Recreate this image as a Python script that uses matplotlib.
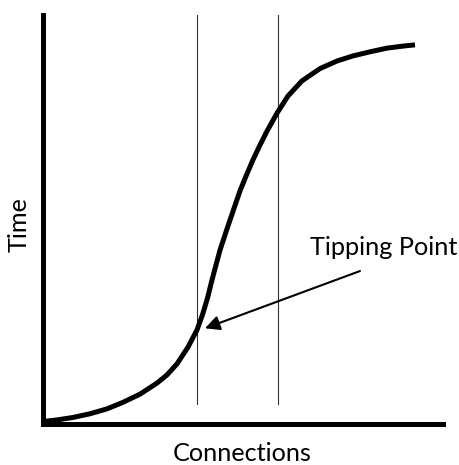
import matplotlib
matplotlib.use('Agg')
import matplotlib.pyplot as plt

# curve, connections (x) vs time (y), both 0..100
conn = [0, 3.5, 7.5, 11.75, 16, 20, 24.25, 28.5, 31, 33.5, 36.25, 38.5,
        39.9, 41.1, 42.25, 43.25, 44.25, 45.9, 47.6, 49.25, 50.75, 52.5,
        54.25, 56, 58.5, 61.25, 64.75, 69.25, 73.5, 77.5, 81.75, 86,
        90, 93]
time = [0.6, 1.0, 1.6, 2.5, 3.7, 5.3, 7.3, 10.0, 12.0, 14.7, 18.8, 23.0,
        26.8, 30.7, 35.2, 38.9, 42.5, 47.4, 52.3, 57.0, 60.6, 64.6,
        68.2, 71.6, 76.0, 80.2, 83.9, 86.9, 88.75, 90.0, 91.0, 91.9,
        92.4, 92.7]

markers = [38.5, 58.75]          # the two vertical guide lines
tip = (40.5, 23.4)               # where the arrow points
label_at = (79.25, 37.4)         # arrow tail

W, H = 459, 465
fig = plt.figure(figsize=(W / 100, H / 100), dpi=100)
ax = fig.add_axes([43 / W, (H - 424) / H, 400 / W, 409 / H])
ax.set_xlim(0, 100)
ax.set_ylim(0, 100)

for s in ['top', 'right']:
    ax.spines[s].set_visible(False)
for s in ['left', 'bottom']:
    ax.spines[s].set_linewidth(3.6)
    ax.spines[s].set_color('black')
ax.set_xticks([])
ax.set_yticks([])

for m in markers:
    ax.plot([m, m], [4.9, 100], color='#333333', lw=0.8)

ax.plot(conn, time, color='black', lw=3.6, solid_joinstyle='round',
        solid_capstyle='butt')

ax.annotate('', xy=tip, xytext=label_at,
            arrowprops=dict(arrowstyle='-|>', color='black', lw=1.5,
                            mutation_scale=22, shrinkA=0, shrinkB=0))

font = 'Lato'
ax.text(66.75, 41.3, 'Tipping Point', fontsize=18.2, family=font,
        ha='left', va='baseline')
fig.text(19 / W, 1 - 225 / H, 'Time', fontsize=18.2, family=font,
         rotation=90, ha='center', va='center')
fig.text(242.5 / W, 1 - 461 / H, 'Connections', fontsize=18.2, family=font,
         ha='center', va='baseline')

fig.savefig('out.png', dpi=100)
